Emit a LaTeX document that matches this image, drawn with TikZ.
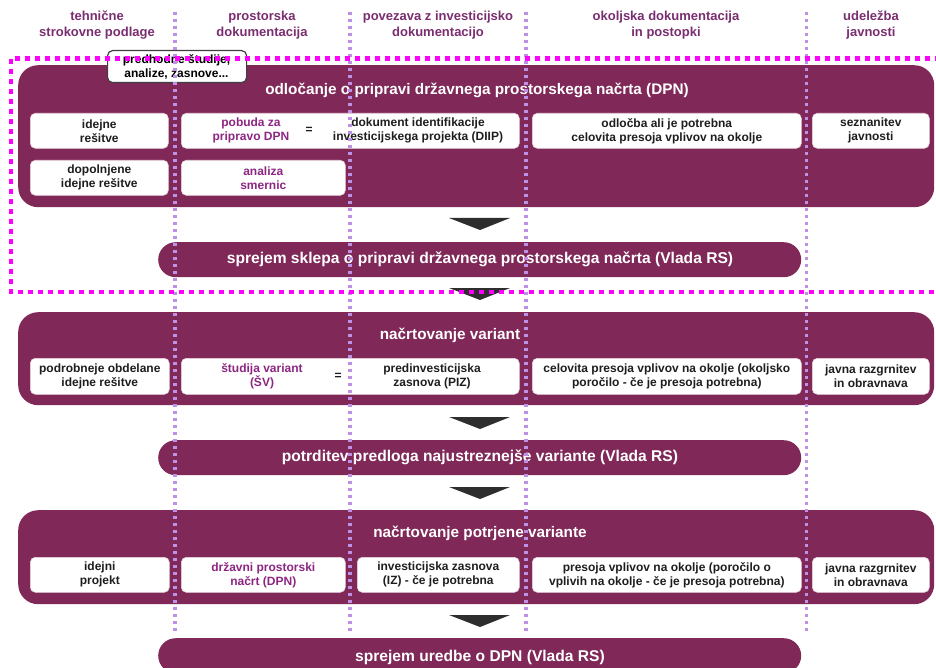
\documentclass[tikz,border=0pt]{standalone}
\usepackage{fontspec}
\setmainfont{Liberation Sans}
\definecolor{boxc}{RGB}{128,40,88}
\definecolor{hdrc}{RGB}{122,45,112}
\definecolor{purp}{RGB}{140,38,130}
\definecolor{lav}{RGB}{190,145,230}
\definecolor{mag}{RGB}{255,0,255}
\definecolor{dtxt}{RGB}{30,30,30}
\newcommand\mkbox[7]{\node[#6, anchor=north west, inner sep=0pt, minimum width={(#4-#2)*1pt}, minimum height={(#5-#3)*1pt}] (#1) at (#2,#3) {#7};}
\tikzset{
  bigbox/.style={fill=boxc, rounded corners=20pt},
  barbox/.style={fill=boxc, rounded corners=17.5pt},
  wbox/.style={fill=white, draw=boxc!20, line width=0.6pt, rounded corners=5pt},
  pbox/.style={fill=white, draw=black!75, line width=1.2pt, rounded corners=5pt},
  ttl/.style={text=white, font=\bfseries\fontsize{15.3}{17}\selectfont, inner sep=0pt},
  bartxt/.style={text=white, font=\bfseries\fontsize{15.6}{17}\selectfont, inner sep=0pt},
  txt/.style={text=dtxt, font=\bfseries\fontsize{12}{14}\selectfont, align=center, inner sep=0pt},
  ptxt/.style={text=purp, font=\bfseries\fontsize{12}{14}\selectfont, align=center, inner sep=0pt},
  hdr/.style={text=hdrc, font=\bfseries\fontsize{13}{15.5}\selectfont, align=center, inner sep=0pt},
  vline/.style={draw=lav, line width=3.3pt, dash pattern=on 3.3pt off 3.7pt},
  magline/.style={draw=mag, line width=4.5pt, dash pattern=on 5pt off 5pt},
  tri/.style={fill=black!82},
}
\begin{document}
\begin{tikzpicture}[x=1pt,y=-1pt]
\useasboundingbox (0,0) rectangle (936,668);
\clip (0,0) rectangle (936,668);
% headers
\node[hdr] (h1) at (97,25) {tehnične\\strokovne podlage};
\node[hdr] (h2) at (262,25) {prostorska\\dokumentacija};
\node[hdr] (h3) at (438,25) {povezava z investicijsko\\dokumentacijo};
\node[hdr] (h4) at (666,25) {okoljska dokumentacija\\in postopki};
\node[hdr] (h5) at (871,25) {udeležba\\javnosti};
% big boxes and bars
\mkbox{b1}{18}{65}{934}{207}{bigbox}{}
\mkbox{s1}{158}{242}{801}{277}{barbox}{}
\mkbox{b2}{18}{312}{934}{405}{bigbox}{}
\mkbox{s2}{158}{440}{801}{475}{barbox}{}
\mkbox{b3}{18}{510}{934}{604}{bigbox}{}
\mkbox{s3}{158}{638}{801}{673}{barbox}{}
% triangles
\fill[tri] (449,218) -- (510,218) -- (480,230) -- cycle;
\fill[tri] (449,288) -- (510,288) -- (480,300) -- cycle;
\fill[tri] (449,417) -- (510,417) -- (480,429) -- cycle;
\fill[tri] (449,487) -- (510,487) -- (480,499) -- cycle;
\fill[tri] (449,615) -- (510,615) -- (480,627) -- cycle;
% titles
\node[ttl] (t1) at (477,90) {odločanje o pripravi državnega prostorskega načrta (DPN)};
\node[bartxt] (st1) at (480,259.5) {sprejem sklepa o pripravi državnega prostorskega načrta (Vlada RS)};
\node[ttl] (t2) at (450,335) {načrtovanje variant};
\node[bartxt] (st2) at (480,457.5) {potrditev predloga najustreznejše variante (Vlada RS)};
\node[ttl] (t3) at (480,533) {načrtovanje potrjene variante};
\node[bartxt] (st3) at (480,657) {sprejem uredbe o DPN (Vlada RS)};
% row 1
\mkbox{w11}{30}{113}{168}{148}{wbox}{}
\node[txt] at (w11) {idejne\\rešitve};
\mkbox{w12}{181}{113}{519}{148}{wbox}{}
\node[ptxt] (pob) at (251,130.5) {pobuda za\\pripravo DPN};
\node[txt] (eq1) at (309,130) {=};
\node[txt] (diip) at (418,130.5) {dokument identifikacije\\investicijskega projekta (DIIP)};
\mkbox{w13}{532}{113}{801}{148}{wbox}{}
\node[txt] at (w13) {odločba ali je potrebna\\celovita presoja vplivov na okolje};
\mkbox{w14}{812}{113}{929}{148}{wbox}{}
\node[txt] at (w14) {seznanitev\\javnosti};
\mkbox{w21}{30}{160}{168}{195}{wbox}{}
\node[txt] at (w21) {dopolnjene\\idejne rešitve};
\mkbox{w22}{181}{160}{345}{195}{wbox}{}
\node[ptxt] at (w22) {analiza\\smernic};
% row 2
\mkbox{w31}{30}{358}{169}{394}{wbox}{}
\node[txt] at (w31) {podrobneje obdelane\\idejne rešitve};
\mkbox{w32}{181}{358}{519}{394}{wbox}{}
\node[ptxt] (sv) at (262,376) {študija variant\\(ŠV)};
\node[txt] (eq2) at (338,376) {=};
\node[txt] (piz) at (432,376) {predinvesticijska\\zasnova (PIZ)};
\mkbox{w33}{532}{358}{801}{394}{wbox}{}
\node[txt] at (w33) {celovita presoja vplivov na okolje (okoljsko\\poročilo - če je presoja potrebna)};
\mkbox{w34}{812}{358}{929}{394}{wbox}{}
\node[txt] at (w34) {javna razgrnitev\\in obravnava};
% row 3
\mkbox{w41}{30}{557}{169}{592}{wbox}{}
\node[txt] at (w41) {idejni\\projekt};
\mkbox{w42}{181}{557}{345}{592}{wbox}{}
\node[ptxt] at (w42) {državni prostorski\\načrt (DPN)};
\mkbox{w43}{357}{557}{519}{592}{wbox}{}
\node[txt] at (w43) {investicijska zasnova\\(IZ) - če je potrebna};
\mkbox{w44}{532}{557}{801}{592}{wbox}{}
\node[txt] at (w44) {presoja vplivov na okolje (poročilo o\\vplivih na okolje - če je presoja potrebna)};
\mkbox{w45}{812}{557}{929}{592}{wbox}{}
\node[txt] at (w45) {javna razgrnitev\\in obravnava};
% predhodne
\mkbox{pred}{107}{50}{246}{82}{pbox}{}
\node[txt, text=black] at (176.5,67) {predhodne študije,\\analize, zasnove...};
% vertical dotted lines
\draw[vline] (175,12) -- (175,632);
\draw[vline] (350,12) -- (350,632);
\draw[vline] (526,12) -- (526,632);
\draw[vline] (806.5,12) -- (806.5,632);
% magenta frame
\draw[magline] (940,58.5) -- (11,58.5) -- (11,292) -- (940,292);
\end{tikzpicture}
\end{document}
